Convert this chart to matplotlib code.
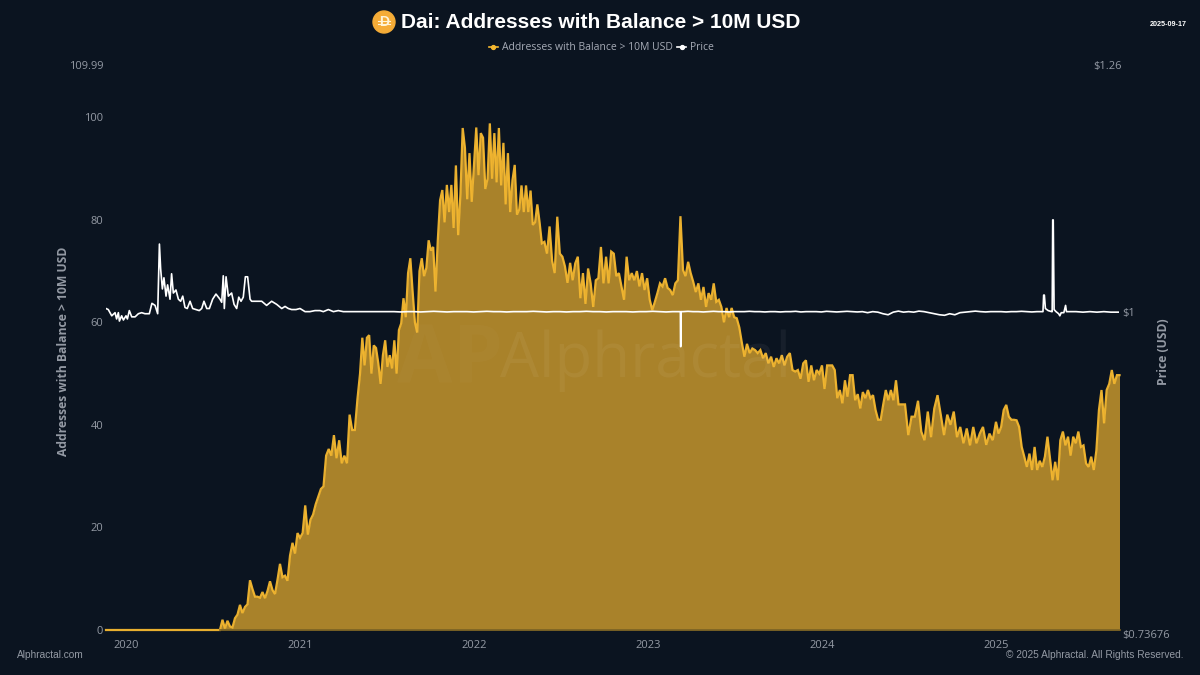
"""Dai: addresses holding more than 10M USD, with the DAI price on a log axis."""

import numpy as np
import matplotlib
matplotlib.use("Agg")
import matplotlib.pyplot as plt
from matplotlib.lines import Line2D
from matplotlib.patches import Circle
from matplotlib.ticker import NullFormatter, NullLocator

BG = "#0b1420"
GOLD = "#f5b830"
GRAY = "#949aa4"

# Values, in short runs between known dates.
zero_years = [2019.885, 2020.54]
zero_values = [0, 0]

addr_2020 = [0, 2, 0.3, 1.8, 0.7, 0.5, 2.3, 3, 4.9, 3.3, 4.5, 5, 9.7, 8, 6.5, 6.5, 6.3, 7.4, 6.2, 7.6,
             9.5, 7.8, 7.0, 9.8, 12.9, 10.3, 10.6, 9.6, 14.5, 17, 14.9, 18.9]
addr_2021a = [18.0, 18.9, 24.3, 18.6, 21.5, 22.5, 24.5, 26, 27.5, 28, 34, 35.3, 34, 38, 33.5, 37, 32.5, 34,
              32.5, 42, 39, 39, 45]
addr_2021b = [50, 57, 51.6, 57, 57.5, 50, 55.5, 55, 52, 48, 53.6, 56.5, 51.3, 53.6, 51,
              56.5, 50, 58.5, 59.8, 64.7, 61, 69.6, 72.5, 66, 60, 58, 70, 72.5, 69, 70.6, 76, 74, 74.7, 66, 76]
addr_2021c = [83.8, 85.8, 79.5, 86.8, 81.5, 86.8, 78.4, 90.6, 77, 85, 97.9, 94, 84, 93, 83.5]
addr_2022a = [90.6, 98, 88.7, 96.9, 96, 86, 88, 98.8, 88, 96.9, 87.3, 97.9, 86.7, 95, 83, 93, 81.5, 87.7,
              90.7, 81, 82, 86.7, 81.5, 86.7, 81.5, 85.7, 79, 79.5, 83, 79.5]
addr_2022b = [75.4, 75.7, 73.4, 78.7, 72, 69.6,
              80.6, 73.4, 72.8, 70.9, 67.7, 71.6, 68.2, 71.5, 72.8, 64.7, 69.6, 63.6, 70.5, 67.6, 63, 68.2,
              68.6, 74.7, 67.6, 72.8, 67.6, 73.8, 73.4, 69, 69.6, 67, 64.4, 72.8, 68.2, 69.6, 68.2, 70, 67,
              69.6, 66.3, 68.6]
addr_2023a = [64.4, 62.4, 64, 65.7, 67.6, 67, 68.6, 66.7, 66.3, 65.3, 67.6, 68.2, 80.7, 70.2, 69, 71.8, 69.6,
              67.9, 65.9, 67.6, 64.4, 66.9, 63, 65.7, 64.4, 67.6, 64, 64.4, 63, 60, 62.8, 61, 62.8, 61, 60.8,
              59, 56, 53.3]
addr_2023b = [55.8, 54, 54.9, 54.6, 54, 54.6, 53, 54, 52, 53.3, 51.3, 53, 52, 53.6, 51.6, 53.3,
              54, 50.7, 50.4, 50.7, 49, 52, 52.6, 48.4, 51.6, 48.7, 50.7, 50]
addr_2024a = [51.6, 47, 51.6, 51.6, 51.6, 50.7, 45.2, 46.8, 44.2, 48.7, 45.5, 49.7, 49.7, 44.8, 46, 43.2,
              46.4, 45.2, 46.8, 45.2, 45.8, 42.9, 41, 41, 44, 46.8, 44.8, 46.8, 44.8, 48.7]
addr_2024b = [44, 44, 44, 38,
              41.6, 41.6, 44.7, 38.7, 37, 42.6, 37.6, 43.2, 45.8, 42, 38, 42, 40, 42.6, 37.6, 39.6, 36.4, 39.3,
              36, 39.6, 36.4, 38.3, 39.6, 36.1, 38.3, 37]
addr_2025 = [40.6, 38.3, 39.6, 42.9, 43.9, 41.6, 41, 41, 40.9, 39.6, 35.7, 33.8, 31.8, 34.4, 31.2, 35.7, 31.2,
             33, 31.8, 33.8, 37.7, 33.4, 29.2, 32.8, 29.2, 37, 38.7, 36, 37.7, 34, 37.7, 36.4, 38.7, 35.7, 36,
             32.5, 31.8, 33.8, 31.2, 35, 42.9, 46.8, 40.3, 46.8, 48, 50.7, 48, 49.7, 49.7]

price_early_years = [2019.885, 2019.898, 2019.918, 2019.937, 2019.946, 2019.956, 2019.962, 2019.975, 2019.985,
                     2020.0, 2020.008, 2020.019, 2020.033, 2020.052, 2020.071, 2020.09, 2020.109, 2020.134,
                     2020.149, 2020.167, 2020.182, 2020.192, 2020.199, 2020.209, 2020.218, 2020.23, 2020.239,
                     2020.253, 2020.262, 2020.272, 2020.287, 2020.301, 2020.314, 2020.326, 2020.339, 2020.352,
                     2020.368, 2020.383, 2020.402, 2020.421, 2020.435, 2020.448, 2020.464, 2020.479, 2020.498,
                     2020.517, 2020.54, 2020.55, 2020.559, 2020.565, 2020.575, 2020.588, 2020.607, 2020.621,
                     2020.636, 2020.648, 2020.661, 2020.674, 2020.686, 2020.699, 2020.713, 2020.722, 2020.751,
                     2020.78, 2020.808, 2020.837, 2020.866, 2020.895, 2020.914, 2020.933, 2020.952, 2020.977,
                     2021.0, 2021.029, 2021.057, 2021.086, 2021.115, 2021.134, 2021.163, 2021.192, 2021.22,
                     2021.249, 2021.278, 2021.307, 2021.364, 2021.441, 2021.517]
price_early = [1.003, 1.002, 0.996, 0.999, 0.993, 0.999, 0.991, 0.996, 0.992,
               0.996, 0.993, 1.001, 0.995, 0.995, 0.998, 0.999, 0.998, 0.998,
               1.008, 1.006, 0.998, 1.067, 1.042, 1.022, 1.033, 1.015, 1.026,
               1.012, 1.037, 1.018, 1.021, 1.012, 1.010, 1.015, 1.004, 1.003,
               1.010, 1.003, 1.002, 1.001, 1.003, 1.010, 1.003, 1.003, 1.012,
               1.017, 1.012, 1.009, 1.035, 1.003, 1.034, 1.015, 1.018, 1.007,
               1.003, 1.014, 1.010, 1.014, 1.034, 1.034, 1.012, 1.010, 1.010,
               1.010, 1.006, 1.010, 1.007, 1.003, 1.005, 1.003, 1.002, 1.002,
               1.003, 1.000, 1.000, 1.001, 1.001, 1.000, 1.002, 1.000, 1.001,
               1.000, 1.000, 1.000, 1.000, 1.000, 1.000]
price_flat_a = [1.000, 0.9997, 1.000, 1.000, 0.9997, 1.000, 1.0003, 1.000, 0.9997, 1.000, 1.000, 1.000, 0.9997,
                1.000, 1.0003, 1.000, 1.000, 0.9997, 1.000, 1.000, 1.000, 1.0003, 1.000, 0.9997, 1.000, 1.000,
                0.9997, 1.000, 1.000, 1.0003, 1.000, 1.000, 0.9997, 1.000, 1.000, 1.000, 0.9997, 1.000, 1.000,
                1.0003, 1.000, 0.9997, 1.000]
dip_years = [2023.186, 2023.187, 2023.189, 2023.19]
dip_values = [1.000, 0.967, 0.967, 1.000]
price_flat_b = [1.000, 1.0003, 1.000, 1.000, 0.9997, 1.000, 1.0003, 1.000, 1.000, 0.9997, 1.000, 1.000, 1.000,
                1.0003, 1.000, 1.000, 0.9997, 1.000, 1.000, 0.9997, 1.000, 1.000, 1.0003, 0.9997, 1.000, 1.000,
                1.000, 0.9997, 1.0003, 1.000, 0.9997, 1.000, 1.0003, 1.000, 0.9997, 1.000, 0.999, 1.000, 0.9995,
                0.998, 0.997, 0.9995, 1.0005, 0.9995, 1.000, 0.9995, 1.0005, 1.000, 0.999, 0.998, 0.997, 0.9965,
                0.998, 0.997, 0.999, 0.9995, 1.000, 1.0005, 1.000, 0.9997, 1.000, 1.000, 1.000, 0.9997, 1.000,
                1.000, 1.0003, 1.000, 0.9997, 1.000]
price_2025_years = [2025.27, 2025.274, 2025.278, 2025.284, 2025.30, 2025.32, 2025.323, 2025.326, 2025.329,
                    2025.334, 2025.345, 2025.36, 2025.367, 2025.375, 2025.39, 2025.40, 2025.405, 2025.42,
                    2025.46, 2025.50, 2025.54, 2025.58, 2025.62, 2025.66, 2025.71]
price_2025 = [1.000, 1.016, 1.016, 1.003, 1.001, 1.000, 1.000, 1.092, 1.092,
              1.002, 1.000, 0.998, 0.996, 0.999, 0.999, 1.006, 1.000, 1.000,
              1.000, 0.9995, 1.000, 0.9995, 1.000, 0.9995, 0.9995]

year_ticks = [2020, 2021, 2022, 2023, 2024, 2025]
addr_ticks = [0, 20, 40, 60, 80, 100]


def spread(values, start, end):
    return np.linspace(start, end, len(values), endpoint=False)


addr_years = np.concatenate([
    zero_years,
    spread(addr_2020, 2020.54, 2021),
    spread(addr_2021a, 2021, 2021.345),
    spread(addr_2021b, 2021.345, 2021.805),
    spread(addr_2021c, 2021.805, 2022),
    spread(addr_2022a, 2022, 2022.39),
    spread(addr_2022b, 2022.39, 2023.01),
    spread(addr_2023a, 2023.01, 2023.569),
    spread(addr_2023b, 2023.569, 2024),
    spread(addr_2024a, 2024, 2024.44),
    spread(addr_2024b, 2024.44, 2025),
    np.linspace(2025, 2025.71, len(addr_2025)),
])
addr_values = np.concatenate([zero_values, addr_2020, addr_2021a, addr_2021b, addr_2021c, addr_2022a, addr_2022b,
                              addr_2023a, addr_2023b, addr_2024a, addr_2024b, addr_2025])

price_years = np.concatenate([price_early_years, spread(price_flat_a, 2021.54, 2023.18), dip_years,
                              spread(price_flat_b, 2023.2, 2025.265), price_2025_years])
price_values = np.concatenate([price_early, price_flat_a, dip_values, price_flat_b, price_2025])

plt.rcParams["font.family"] = ["Open Sans", "DejaVu Sans"]
fig = plt.figure(figsize=(12, 6.75), dpi=100, facecolor=BG)
ax = fig.add_axes([106 / 1200, 1 - 630 / 675, 1013 / 1200, 564 / 675], facecolor=BG)

ax.fill_between(addr_years, addr_values, 0, color=GOLD, alpha=0.68, lw=0, zorder=1)
ax.plot(addr_years, addr_values, color=GOLD, lw=1.6, alpha=0.95, zorder=2, solid_joinstyle="miter", clip_on=False)
ax.plot([addr_years[2], addr_years[-1]], [0, 0], color="#7a6224", lw=1.2, zorder=3, clip_on=False)
ax.set_xlim(2019.885, 2025.707)
ax.set_ylim(0, 109.99)
ax.set_xticks(year_ticks)
ax.set_yticks(addr_ticks)
ax.tick_params(length=0, labelsize=8, labelcolor=GRAY, pad=2)
ax.tick_params(axis="x", pad=7)
ax.set_ylabel("Addresses with Balance > 10M USD", color=GRAY, fontsize=8.7, fontweight="bold", labelpad=10, y=0.494)
for spine in ax.spines.values():
    spine.set_visible(False)
ax.annotate("109.99", (0, 1), xycoords="axes fraction", xytext=(-2, -0.7), textcoords="offset points",
            ha="right", va="center", color=GRAY, fontsize=8)

# Price sits on its own log axis, 1.2658 is the unrounded top of the scale.
ax2 = ax.twinx()
ax2.plot(price_years, price_values, color="#ffffff", lw=1.2, zorder=5)
ax2.set_yscale("log")
ax2.set_ylim(0.73676, 1.2658)
ax2.set_yticks([1])
ax2.set_yticklabels(["$1"])
ax2.yaxis.set_minor_locator(NullLocator())
ax2.yaxis.set_minor_formatter(NullFormatter())
ax2.tick_params(length=0, labelsize=8, labelcolor=GRAY, pad=2)
ax2.set_ylabel("Price (USD)", color=GRAY, fontsize=8.7, fontweight="bold", labelpad=16.5, y=0.494)
for spine in ax2.spines.values():
    spine.set_visible(False)
ax2.annotate("$1.26", (1, 1), xycoords="axes fraction", xytext=(2, -0.7), textcoords="offset points",
             ha="right", va="center", color=GRAY, fontsize=8)
ax2.annotate("$0.73676", (1, 0), xycoords="axes fraction", xytext=(2, -4), textcoords="offset points",
             ha="left", va="center", color=GRAY, fontsize=8)

# Faint watermark across the middle of the plot.
ax2.text(0.389, 0.478, "Alphractal", transform=ax.transAxes, color="#ffffff", alpha=0.05, fontsize=44.5,
         ha="left", va="center", zorder=4)
ax2.text(0.34, 0.475, "AP", transform=ax.transAxes, color="#ffffff", alpha=0.02, fontsize=58,
         fontweight="bold", ha="center", va="center", zorder=4)

# Overlay in pixel units for the coin icon in the header.
over = fig.add_axes([0, 0, 1, 1], facecolor="none")
over.set_xlim(0, 1200)
over.set_ylim(675, 0)
over.axis("off")
over.add_patch(Circle((384, 22), 11, color="#f5ac37"))
over.text(384, 22.5, "D", color="#fff3d6", fontsize=10, fontweight="bold", ha="center", va="center",
          family="Liberation Sans")
over.plot([378, 390], [20.5, 20.5], color="#fff3d6", lw=0.8)
over.plot([378, 390], [23.5, 23.5], color="#fff3d6", lw=0.8)

fig.text(401 / 1200, 1 - 22 / 675, "Dai: Addresses with Balance > 10M USD", ha="left", va="center",
         color="#ffffff", fontsize=15, fontweight="bold", family="Liberation Sans")
fig.text(1187 / 1200, 1 - 25 / 675, "2025-09-17", ha="right", va="center", color="#ffffff", fontsize=5.2,
         fontweight="bold", family="Liberation Sans")
fig.text(17 / 1200, 1 - 655 / 675, "Alphractal.com", ha="left", va="center", color=GRAY, fontsize=7.3,
         family="Liberation Sans")
fig.text(1183 / 1200, 1 - 655 / 675, "\u00a9 2025 Alphractal. All Rights Reserved.", ha="right", va="center",
         color=GRAY, fontsize=7.3, family="Liberation Sans")

handles = [Line2D([], [], color=GOLD, lw=1.2, marker="o", markersize=2.8),
           Line2D([], [], color="#ffffff", lw=1.2, marker="o", markersize=2.8)]
fig.legend(handles, ["Addresses with Balance > 10M USD", "Price"], loc="center", ncol=2,
           bbox_to_anchor=(601 / 1200, 1 - 48 / 675), frameon=False, fontsize=7.5, labelcolor="#a6abb6",
           handlelength=0.95, handletextpad=0.3, columnspacing=0.4)

fig.savefig("out.png", dpi=100, facecolor=BG)
